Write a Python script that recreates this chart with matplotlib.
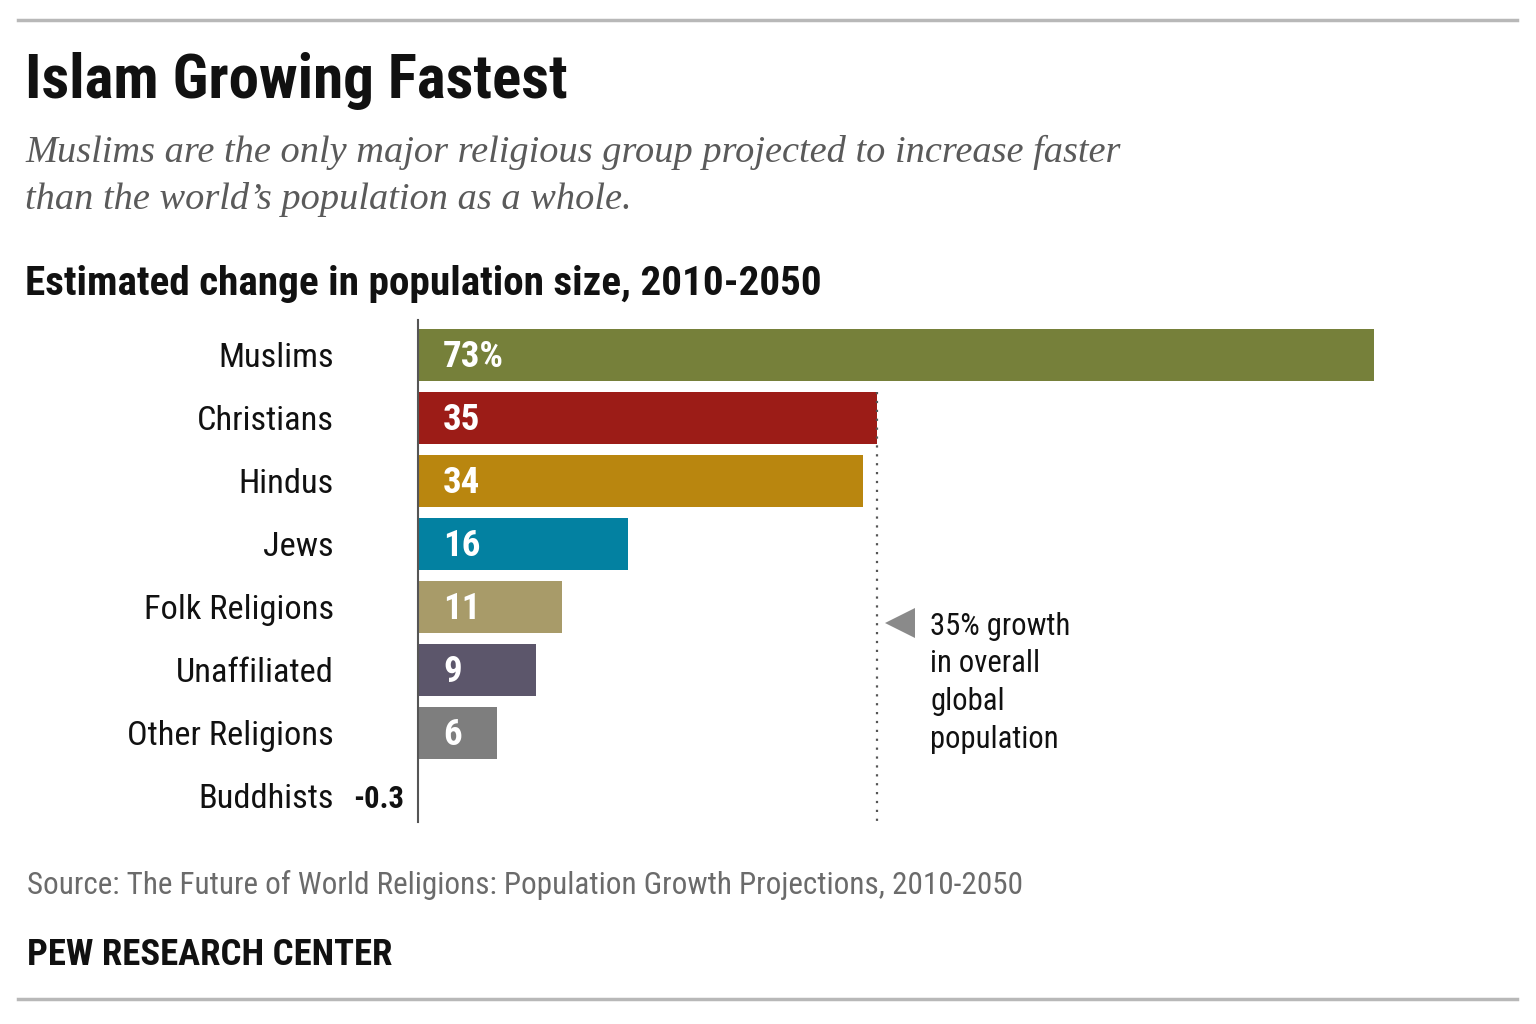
import matplotlib.pyplot as plt
from matplotlib import font_manager as fm
from matplotlib import transforms
from matplotlib.font_manager import FontProperties
from matplotlib.lines import Line2D

categories = ['Muslims', 'Christians', 'Hindus', 'Jews', 'Folk Religions',
              'Unaffiliated', 'Other Religions', 'Buddhists']
change = [73, 35, 34, 16, 11, 9, 6, -0.3]
value_labels = ['73%', '35', '34', '16', '11', '9', '6', '-0.3']
colors = ['#76803a', '#9c1c17', '#b9860f', '#0381a1', '#a89b69',
          '#5c566b', '#7e7e7e', '#d9d2c4']
world_growth = 35
note_lines = ['35% growth', 'in overall', 'global', 'population']


# --- look for a narrow / condensed sans face ---
def _weight(w):
    if isinstance(w, str):
        return fm.weight_dict.get(w, 400)
    return int(w)


def _stretch(f):
    s = str(f.stretch)
    fn = f.fname.lower()
    if 'narrow' in f.name.lower() or 'narrow' in fn:
        return 'condensed'
    if 'semicondensed' in fn or 'semi-condensed' in s:
        return 'semi-condensed'
    if 'extracondensed' in fn or 'extra-condensed' in s or 'ultra' in s:
        return 'extra-condensed'
    if 'condensed' in fn or s == 'condensed' or s == '300':
        return 'condensed'
    return None


found = {}
for f in fm.fontManager.ttflist:
    st = _stretch(f)
    if st is None or f.style != 'normal':
        continue
    found.setdefault((f.name, st), []).append(f)

name_order = ['Liberation Sans Narrow', 'Roboto Condensed', 'Noto Sans',
              'Noto Sans Condensed', 'DejaVu Sans', 'DejaVu Sans Condensed',
              'Open Sans', 'Open Sans Condensed', 'Roboto']
stretch_order = ['condensed', 'semi-condensed', 'extra-condensed']
chosen = None
for st in stretch_order:
    for nm in name_order:
        if (nm, st) in found:
            chosen = found[(nm, st)]
            break
    if chosen:
        break
if chosen is None and found:
    chosen = list(found.values())[0]


def _pick(target):
    return min(chosen, key=lambda f: abs(_weight(f.weight) - target)).fname


if chosen:
    REG, BOLD = _pick(400), _pick(700)
else:
    REG = BOLD = None


def fp(bold=False, size=12):
    path = BOLD if bold else REG
    if path:
        return FontProperties(fname=path, size=size)
    return FontProperties(family='DejaVu Sans', stretch='condensed',
                          weight='bold' if bold else 'normal', size=size)


SERIF = ['Liberation Serif', 'DejaVu Serif']

W, H = 1536, 1024
fig = plt.figure(figsize=(W / 100, H / 100), dpi=100, facecolor='white')
renderer = fig.canvas.get_renderer()


def fx(px):
    return px / W


def fy(py):
    return 1 - py / H


def fit_size(s, bold, size, target_w, up=1.15):
    # scale a font size so the text spans target_w pixels
    t = fig.text(0, 0, s, fontproperties=fp(bold, size))
    w = t.get_window_extent(renderer).width
    t.remove()
    return size * min(up, target_w / w)


def ftext(xp, yp, s, bold, size, target_w, **kw):
    sz = fit_size(s, bold, size, target_w)
    return fig.text(fx(xp), fy(yp), s, fontproperties=fp(bold, sz),
                    va='baseline', **kw)


# rules top and bottom
for yy in (20, 999):
    fig.add_artist(Line2D([fx(18), fx(1517)], [fy(yy), fy(yy)],
                          color='#b8b8b8', lw=2.5, transform=fig.transFigure))

ftext(25, 98, 'Islam Growing Fastest', True, 43, 543, color='#111111')
fig.text(fx(25), fy(162), 'Muslims are the only major religious group projected to increase faster',
         family=SERIF, style='italic', fontsize=27.6, color='#5a5a5a', va='baseline')
fig.text(fx(25), fy(209), 'than the world\u2019s population as a whole.',
         family=SERIF, style='italic', fontsize=27.6, color='#5a5a5a', va='baseline')
ftext(25, 295, 'Estimated change in population size, 2010-2050', True, 28, 797,
      color='#111111')

# axes: left edge at x=418, spans y 320..822
ax_left, ax_right = 418, 1500
ax_top, ax_bottom = 320, 822
ax = fig.add_axes([fx(ax_left), fy(ax_bottom), fx(ax_right - ax_left),
                   (ax_bottom - ax_top) / H])
scale = 13.1  # px per percentage point
ax.set_xlim(0, (ax_right - ax_left) / scale)
step = 63
ax.set_ylim((ax_bottom - 355) / step, -(355 - ax_top) / step)

ypos = list(range(len(categories)))
ax.barh(ypos, change, height=0.84, color=colors)

ax.set_yticks([])
ax.set_xticks([])
for s in ('top', 'right', 'bottom'):
    ax.spines[s].set_visible(False)
ax.spines['left'].set_color('#555555')
ax.spines['left'].set_linewidth(1.5)
ax.set_facecolor('none')

base_off = 12 / step  # label baseline sits a little below the bar centre
label_tr = transforms.blended_transform_factory(fig.transFigure, ax.transData)
cat_size = fit_size('Other Religions', False, 25, 207)
for y, cat in zip(ypos, categories):
    ax.text(fx(334), y + base_off, cat, transform=label_tr,
            fontproperties=fp(False, cat_size), color='#111111',
            ha='right', va='baseline')

val_size = fit_size('73%', True, 26, 61)
neg_size = fit_size('-0.3', True, 22, 51)
for y, v, lab in zip(ypos, change, value_labels):
    if v > 0:
        ax.text(1.9, y + base_off, lab, fontproperties=fp(True, val_size),
                color='white', va='baseline', ha='left')
    else:
        ax.text(fx(404), y + base_off, lab, transform=label_tr,
                fontproperties=fp(True, neg_size),
                color='#111111', va='baseline', ha='right')

# world growth reference line
ax.plot([world_growth, world_growth], [1 - 0.42, ax.get_ylim()[0]],
        color='#555555', lw=1.6, ls=(0, (1, 3)))
ax.plot([world_growth + 1.8], [(623 - 355) / step], marker='<', markersize=22,
        color='#8a8a8a', markeredgewidth=0)
ann_size = fit_size(note_lines[0], False, 22, 140)
for i, line in enumerate(note_lines):
    ax.text(world_growth + 4.1, (635 + 37.5 * i - 355) / step, line,
            fontproperties=fp(False, ann_size), color='#111111',
            va='baseline', ha='left')

ftext(27, 894, 'Source: The Future of World Religions: Population Growth Projections, 2010-2050',
      False, 23, 999, color='#6b6b6b')
ftext(27, 965, 'PEW RESEARCH CENTER', True, 24, 366, color='#111111')

fig.savefig('out.png', dpi=100, facecolor='white')
